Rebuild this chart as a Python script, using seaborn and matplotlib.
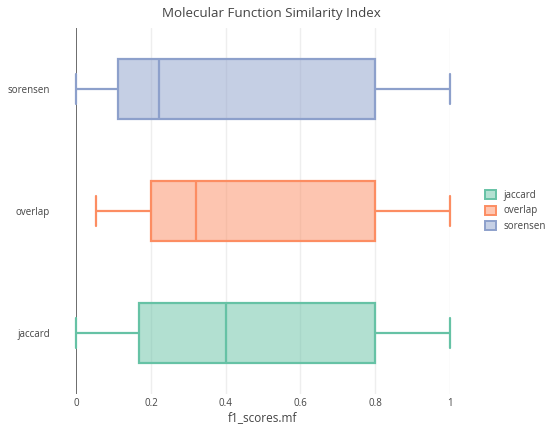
import numpy as np
import pandas as pd
import matplotlib
matplotlib.use("Agg")
import matplotlib.pyplot as plt
import seaborn as sns
from matplotlib.patches import Patch
from matplotlib.colors import to_rgb

# Five-number summaries (min, Q1, median, Q3, max)
categories = ["sorensen", "overlap", "jaccard"]
sorensen_vals = [0.0, 0.111, 0.222, 0.8, 1.0]
overlap_vals = [0.053, 0.2, 0.321, 0.8, 1.0]
jaccard_vals = [0.0, 0.167, 0.4, 0.8, 1.0]
legend_order = ["jaccard", "overlap", "sorensen"]
colors = {"jaccard": "#66c2a5", "overlap": "#fc8d62", "sorensen": "#8da0cb"}
xticks = [0, 0.2, 0.4, 0.6, 0.8, 1.0]
xticklabels = ["0", "0.2", "0.4", "0.6", "0.8", "1"]

values = {"sorensen": sorensen_vals, "overlap": overlap_vals, "jaccard": jaccard_vals}


def light(c, a=0.5):
    r, g, b = to_rgb(c)
    return (1 - a + a * r, 1 - a + a * g, 1 - a + a * b)


sns.set_theme(style="white")
plt.rcParams["font.family"] = ["Open Sans", "DejaVu Sans"]

fig = plt.figure(figsize=(5.5, 4.25), dpi=100)
ax = fig.add_axes([76.3 / 550, 31 / 425, (449.7 - 76.3) / 550, (397 - 31) / 425])

# light vertical grid and zero line
for t in xticks[1:]:
    ax.axvline(t, color="#eeeeee", lw=1, zorder=0)
ax.axvline(0, color="#444444", lw=1.1, zorder=0.5)
n_ref = len(ax.lines)

for cat in categories:
    sub = pd.DataFrame({"score": values[cat], "metric": [cat] * len(values[cat])})
    sns.boxplot(
        data=sub, x="score", y="metric", order=categories, orient="h",
        color=colors[cat], linecolor=colors[cat], saturation=1,
        width=0.49, whis=1.5, linewidth=1.6, fill=True, showfliers=False, ax=ax,
    )

for p in ax.patches:
    r, g, b, _ = p.get_facecolor()
    p.set_facecolor((r, g, b, 0.5))

for line in ax.lines[n_ref:]:
    line.set_clip_on(False)
    line.set_zorder(3)

ax.set_xlim(0, 1)
ax.set_ylim(2.5, -0.5)
ax.set_xticks(xticks)
ax.set_xticklabels(xticklabels)
ax.tick_params(axis="both", length=0, labelsize=7, colors="#444444")
ax.tick_params(axis="y", pad=19)
ax.tick_params(axis="x", pad=3)
for s in ax.spines.values():
    s.set_visible(False)
ax.set_ylabel("")
ax.set_xlabel("f1_scores.mf", fontsize=8.5, color="#444444", labelpad=1.5)

fig.text(271 / 550, 1 - 14 / 425, "Molecular Function Similarity Index",
         ha="center", va="center", fontsize=9.6, color="#444444")

handles = [Patch(facecolor=light(colors[c]), edgecolor=colors[c], lw=1.4, label=c)
           for c in legend_order]
fig.legend(handles=handles, loc="center left", bbox_to_anchor=(478 / 550, 1 - 211 / 425),
           frameon=False, fontsize=7, labelcolor="#444444", handlelength=1.1,
           handleheight=1.1, handletextpad=0.8, labelspacing=0.45, borderpad=0.2)

fig.savefig("out.png", dpi=100)
